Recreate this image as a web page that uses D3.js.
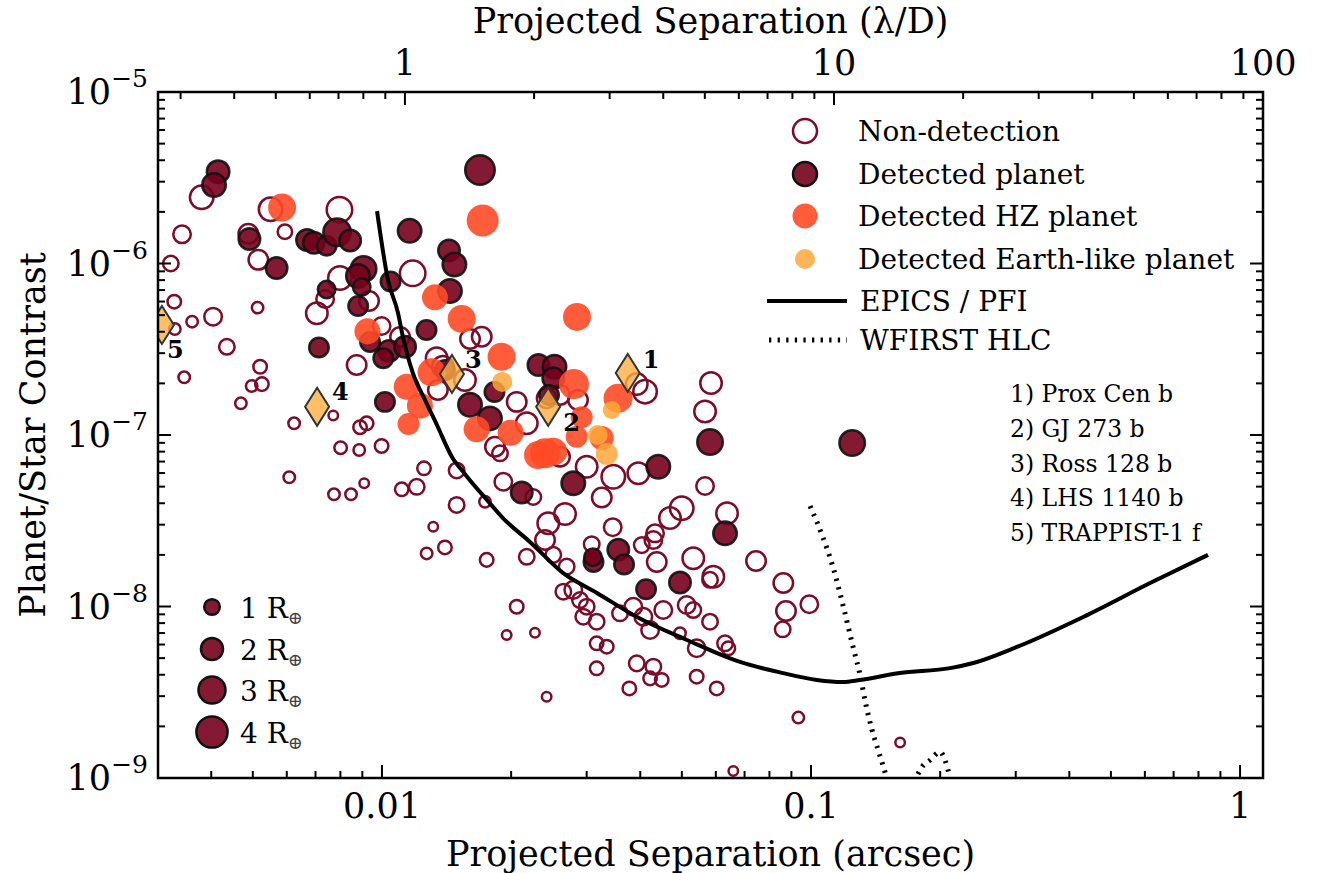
<!DOCTYPE html>
<html>
<head>
<meta charset="utf-8">
<script src="https://cdn.jsdelivr.net/npm/d3@7/dist/d3.min.js"></script>
<style>
html,body{margin:0;padding:0;background:#fff;}
svg text{font-family:"DejaVu Serif",serif;fill:#000;}
</style>
</head>
<body>
<svg id="chart" width="1322" height="873"></svg>
<script>
// ---------------- DATA ----------------
// [separation (arcsec), planet/star contrast, radius (R_earth)]
const nonDetections = [
[0.0038,2.43e-6,2.27],[0.00342,1.48e-6,1.26],[0.00322,1.0e-6,0.99],[0.00328,5.99e-7,0.75],[0.00329,4.15e-7,0.54],
[0.00361,4.58e-7,0.54],[0.00404,4.90e-7,1.26],[0.00435,3.27e-7,0.99],[0.00346,2.17e-7,0.54],[0.00513,5.53e-7,0.54],
[0.0052,2.50e-7,0.75],[0.00497,1.93e-7,0.54],[0.00525,1.98e-7,0.75],[0.00469,1.53e-7,0.54],[0.00624,1.17e-7,0.54],
[0.00488,1.49e-6,1.56],[0.00515,1.05e-6,1.56],[0.0055,2.07e-6,2.27],[0.00594,1.53e-6,0.86],[0.00608,5.67e-8,0.54],
[0.0077,1.30e-7,0.37],[0.00796,2.06e-6,2.67],[0.00798,8.23e-7,2.27],[0.00933,6.05e-7,1.56],[0.00737,6.21e-7,1.26],
[0.00705,5.13e-7,1.90],[0.00873,2.56e-7,1.56],[0.00998,4.32e-7,1.26],[0.01102,3.73e-7,1.56],[0.01179,8.77e-7,2.67],
[0.00921,1.17e-7,0.75],[0.00889,1.11e-7,0.75],[0.00998,8.63e-8,0.75],[0.00801,8.43e-8,0.64],[0.00885,8.18e-8,0.54],
[0.00773,4.51e-8,0.54],[0.00847,4.51e-8,0.54],[0.00909,5.23e-8,0.37],[0.01112,4.82e-8,0.75],[0.01205,4.99e-8,0.99],
[0.01253,6.39e-8,0.75],[0.01604,3.63e-7,1.56],[0.01708,3.74e-7,1.56],[0.01387,2.50e-7,1.90],[0.01341,2.80e-7,1.90],
[0.01561,2.09e-7,1.90],[0.0135,1.83e-7,1.56],[0.02061,1.56e-7,1.56],[0.02175,1.17e-7,1.90],[0.01834,8.55e-8,1.56],
[0.01884,7.82e-8,0.99],[0.0242,1.64e-7,1.56],[0.026,1.71e-7,1.56],[0.02863,1.60e-7,1.56],[0.03925,1.98e-7,1.90],
[0.04104,1.79e-7,2.27],[0.03,6.53e-8,1.90],[0.026,7.47e-8,1.56],[0.03959,5.98e-8,1.90],[0.03461,5.71e-8,2.27],
[0.02253,4.35e-8,0.99],[0.01918,5.34e-8,1.26],[0.01493,6.21e-8,0.99],[0.01493,3.91e-8,0.99],[0.01738,4.08e-8,0.54],
[0.03253,4.32e-8,1.56],[0.02671,3.46e-8,1.90],[0.05847,2.01e-7,1.90],[0.05662,1.37e-7,1.90],[0.05662,5.04e-8,1.26],
[0.04996,3.74e-8,2.27],[0.04691,3.28e-8,1.90],[0.06372,3.50e-8,1.90],[0.07445,1.84e-8,1.56],[0.08618,1.37e-8,1.56],
[0.0991,1.03e-8,1.26],[0.08743,9.41e-9,1.56],[0.0859,7.36e-9,0.99],[0.09342,2.25e-9,0.54],[0.0659,1.10e-9,0.37],
[0.1613,1.61e-9,0.37],[0.02441,3.06e-8,1.90],[0.02399,2.44e-8,1.56],[0.02508,2.0e-8,0.99],[0.0345,2.90e-8,1.26],
[0.03082,2.31e-8,0.99],[0.04032,2.28e-8,0.99],[0.04291,2.44e-8,1.26],[0.0433,2.67e-8,1.26],[0.0437,1.82e-8,1.56],
[0.05316,1.91e-8,1.90],[0.0592,1.49e-8,1.90],[0.05816,1.43e-8,0.99],[0.02695,1.71e-8,0.99],[0.02647,1.22e-8,0.99],
[0.02792,1.25e-8,1.26],[0.02894,1.09e-8,0.99],[0.03,9.97e-9,0.99],[0.03165,8.15e-9,0.99],[0.02946,8.72e-9,0.99],
[0.03588,9.13e-9,0.99],[0.03853,9.97e-9,1.26],[0.04066,8.72e-9,1.26],[0.04216,7.29e-9,1.26],[0.04526,9.54e-9,1.26],
[0.05131,1.02e-8,1.26],[0.05316,9.54e-9,0.99],[0.05816,8.15e-9,0.99],[0.0495,6.98e-9,0.54],[0.05414,5.71e-9,1.26],
[0.06304,6.10e-9,0.99],[0.06417,5.71e-9,0.75],[0.03165,6.10e-9,0.75],[0.03341,5.83e-9,0.75],[0.03925,4.66e-9,0.99],
[0.04291,4.46e-9,0.99],[0.04216,3.81e-9,0.75],[0.04487,3.73e-9,0.75],[0.03165,4.36e-9,0.75],[0.03772,3.33e-9,0.75],
[0.05414,3.90e-9,0.75],[0.06029,3.33e-9,0.75],[0.0242,2.98e-9,0.37],[0.02061,9.97e-9,0.75],[0.01953,6.82e-9,0.37],
[0.02273,7.03e-9,0.37],[0.01754,1.87e-8,0.75],[0.02175,1.95e-8,0.99],[0.01317,2.92e-8,0.37],[0.01402,2.21e-8,0.75],
[0.01271,2.04e-8,0.54]
];
const detectedPlanets = [
[0.00415,3.43e-6,2.08],[0.00406,2.87e-6,2.27],[0.00491,1.39e-6,1.90],[0.00568,9.41e-7,1.90],[0.00669,1.37e-6,1.90],
[0.00694,1.32e-6,1.90],[0.00743,1.27e-6,1.56],[0.00786,1.52e-6,3.11],[0.00843,1.36e-6,1.90],[0.00906,9.29e-7,2.67],
[0.00879,8.46e-7,2.27],[0.00897,7.30e-7,1.26],[0.0088,5.65e-7,1.56],[0.00743,7.05e-7,1.26],[0.00713,3.24e-7,1.56],
[0.00938,3.49e-7,1.56],[0.01038,3.09e-7,1.90],[0.01007,2.80e-7,1.56],[0.01132,3.27e-7,1.90],[0.01047,7.85e-7,1.56],
[0.0116,1.55e-6,2.27],[0.01016,1.56e-7,1.56],[0.0127,4.10e-7,1.56],[0.01433,1.19e-6,1.90],[0.01475,9.87e-7,2.27],
[0.0144,6.91e-7,2.27],[0.01402,2.39e-7,1.56],[0.01604,1.50e-7,2.27],[0.01785,1.25e-7,2.27],[0.01829,1.78e-7,1.56],
[0.02316,2.56e-7,1.90],[0.02524,2.50e-7,2.27],[0.02508,2.14e-7,1.90],[0.02451,1.71e-7,1.56],[0.02792,5.23e-8,2.27],
[0.04406,6.53e-8,2.27],[0.02117,4.62e-8,1.90],[0.05816,9.10e-8,2.67],[0.1247,8.98e-8,2.67],[0.06304,2.67e-8,2.27],
[0.03555,2.14e-8,1.90],[0.03666,1.76e-8,1.56],[0.03112,1.82e-8,1.56],[0.03103,1.94e-8,1.26],[0.04126,1.26e-8,1.56],
[0.0495,1.38e-8,1.90],[0.01692,3.51e-6,3.58]
];
const hzPlanets = [
[0.00585,2.12e-6,3.22],[0.00925,4.02e-7,2.78],[0.01142,1.91e-7,2.78],[0.01226,1.48e-7,2.78],[0.01153,1.16e-7,1.99],
[0.01329,6.35e-7,2.78],[0.01534,4.75e-7,3.22],[0.019,2.86e-7,3.22],[0.01305,2.32e-7,3.22],[0.01662,1.08e-7,2.78],
[0.01995,1.03e-7,2.78],[0.02848,4.88e-7,3.22],[0.02802,1.98e-7,3.70],[0.0355,1.64e-7,3.46],[0.02921,1.27e-7,1.99],
[0.03253,9.6e-8,2.37],[0.02843,9.77e-8,1.99],[0.02399,7.82e-8,3.70],[0.02508,7.99e-8,3.22],[0.0231,7.64e-8,3.22],
[0.01717,1.78e-6,4.2]
];
const earthLikePlanets = [
[0.01907,2.04e-7,1.64],[0.03432,1.40e-7,1.33],[0.03183,1.0e-7,1.64],[0.03341,7.75e-8,1.99]
];
const namedPlanets = ["Prox Cen b","GJ 273 b","Ross 128 b","LHS 1140 b","TRAPPIST-1 f"];
const namedSep = [0.0374,0.0244,0.01456,0.00706,0.00307];
const namedContrast = [2.30e-7,1.46e-7,2.27e-7,1.46e-7,4.38e-7];

const epicsSep = [0.00974,0.01033,0.0109,0.01114,0.0118,0.0126,0.01344,0.01456,0.0156,0.01757,0.01914,0.02213,0.02641,0.0317,0.0393,0.0514,0.0683,0.0861,0.1032,0.1188,0.130,0.161,0.211,0.239,0.302,0.431,0.617,0.842];
const epicsContrast = [2.02e-6,8.0e-7,5.14e-7,3.93e-7,2.30e-7,1.60e-7,1.14e-7,7.45e-8,5.93e-8,4.18e-8,3.28e-8,2.38e-8,1.57e-8,1.20e-8,8.69e-9,6.38e-9,4.75e-9,4.09e-9,3.73e-9,3.63e-9,3.73e-9,4.09e-9,4.37e-9,4.68e-9,5.81e-9,8.69e-9,1.37e-8,2.0e-8];
const wfirstSep = [0.0995,0.1061,0.1125,0.1187,0.1253,0.1301,0.1343,0.1387,0.1433,0.1488,0.157,0.1656,0.1748,0.1814,0.1894,0.1999,0.2053,0.2109,0.2166];
const wfirstContrast = [3.85e-8,2.61e-8,1.70e-8,1.02e-8,5.81e-9,3.99e-9,2.67e-9,1.91e-9,1.46e-9,1.08e-9,6.5e-10,7.0e-10,9.7e-10,1.16e-9,1.27e-9,1.42e-9,1.27e-9,1.0e-9,7.4e-10];

const legendLabels = ["Non-detection","Detected planet","Detected HZ planet","Detected Earth-like planet","EPICS / PFI","WFIRST HLC"];
const sizeLegendRadii = [1,2,3,4];
const xTickValues = [0.01,0.1,1];
const xTickLabels = ["0.01","0.1","1"];
const topTickValues = [1,10,100];
const topTickLabels = ["1","10","100"];
const yTickExponents = [-9,-8,-7,-6,-5];
const lambdaOverDPerArcsec = 88.4;
const xDomain = [0.003006,1.131];
const yDomain = [1e-9,1e-5];

// ---------------- STYLE ----------------
const C = {
  nonDet:"#7d0c2a", det:"#76001c", hz:"#ff4a26", earth:"#ffa83a",
  diamond:"#ffaf43", diamondStroke:"#333333"
};
const P = {left:158,right:1263,top:92,bottom:778};

const svg = d3.select("#chart");
const x = d3.scaleLog().domain(xDomain).range([P.left,P.right]);
const xTop = d3.scaleLog().domain(xDomain.map(d=>d*lambdaOverDPerArcsec)).range([P.left,P.right]);
const y = d3.scaleLog().domain(yDomain).range([P.bottom,P.top]);
const rS = d3.scaleSqrt().domain([0,4]).range([0,15.6]);

svg.append("defs").append("clipPath").attr("id","clip")
  .append("rect").attr("x",P.left).attr("y",P.top).attr("width",P.right-P.left).attr("height",P.bottom-P.top);

const plot = svg.append("g").attr("clip-path","url(#clip)");

// non-detections
plot.append("g").selectAll("circle").data(nonDetections).join("circle")
  .attr("cx",d=>x(d[0])).attr("cy",d=>y(d[1])).attr("r",d=>rS(d[2]))
  .attr("fill","none").attr("stroke",C.nonDet).attr("stroke-width",2.5);
// detected
plot.append("g").selectAll("circle").data(detectedPlanets).join("circle")
  .attr("cx",d=>x(d[0])).attr("cy",d=>y(d[1])).attr("r",d=>rS(d[2]))
  .attr("fill",C.det).attr("fill-opacity",0.9).attr("stroke","#111").attr("stroke-opacity",0.9).attr("stroke-width",2.5);
// HZ
plot.append("g").selectAll("circle").data(hzPlanets).join("circle")
  .attr("cx",d=>x(d[0])).attr("cy",d=>y(d[1])).attr("r",d=>rS(d[2]))
  .attr("fill",C.hz).attr("fill-opacity",0.9);
// Earth-like
plot.append("g").selectAll("circle").data(earthLikePlanets).join("circle")
  .attr("cx",d=>x(d[0])).attr("cy",d=>y(d[1])).attr("r",d=>rS(d[2]))
  .attr("fill",C.earth).attr("fill-opacity",0.85);

// curves
const epics = epicsSep.map((s,i)=>[s,epicsContrast[i]]);
const wfirst = wfirstSep.map((s,i)=>[s,wfirstContrast[i]]);
const line = d3.line().x(d=>x(d[0])).y(d=>y(d[1])).curve(d3.curveMonotoneX);
plot.append("path").attr("d",line(epics)).attr("fill","none").attr("stroke","#000").attr("stroke-width",4);
plot.append("path").attr("d",line(wfirst)).attr("fill","none").attr("stroke","#000").attr("stroke-width",5)
  .attr("stroke-dasharray","2.3,6.3");

// named diamonds
const dPath = "M0,-19L12,0L0,19L-12,0Z";
const labelOffsets = [[15,-5],[15,24],[13,-6],[15,-7],[5,33]];
namedPlanets.forEach((n,i)=>{
  const cx = x(namedSep[i]), cy = y(namedContrast[i]);
  plot.append("path").attr("d",dPath).attr("transform",`translate(${cx},${cy})`)
    .attr("fill",C.diamond).attr("fill-opacity",0.8).attr("stroke",C.diamondStroke).attr("stroke-width",2);
  plot.append("text").attr("x",cx+labelOffsets[i][0]).attr("y",cy+labelOffsets[i][1])
    .attr("font-size",24).attr("font-weight","bold").text(String(i+1));
});

// ---------------- AXES ----------------
const ax = svg.append("g");
const tick = (x1,y1,x2,y2)=>ax.append("line").attr("x1",x1).attr("y1",y1).attr("x2",x2).attr("y2",y2)
  .attr("stroke","#000").attr("stroke-width",2);
const MAJ=13, MIN=7;
for (let k=-9;k<=-5;k++){
  const v = Math.pow(10,k);
  tick(P.left,y(v),P.left+MAJ,y(v)); tick(P.right,y(v),P.right-MAJ,y(v));
  if (k<-5) for (let m=2;m<=9;m++){ const vv=m*v; tick(P.left,y(vv),P.left+MIN,y(vv)); tick(P.right,y(vv),P.right-MIN,y(vv)); }
}
for (let k=-3;k<=0;k++){
  for (let m=1;m<=9;m++){
    const v=m*Math.pow(10,k);
    if (v<xDomain[0]||v>xDomain[1]) continue;
    tick(x(v),P.bottom,x(v),P.bottom-(m===1?MAJ:MIN));
  }
}
const td = xTop.domain();
for (let k=-1;k<=2;k++){
  for (let m=1;m<=9;m++){
    const v=m*Math.pow(10,k);
    if (v<td[0]||v>td[1]*1.0001) continue;
    tick(xTop(v),P.top,xTop(v),P.top+(m===1?MAJ:MIN));
  }
}
svg.append("rect").attr("x",P.left).attr("y",P.top).attr("width",P.right-P.left).attr("height",P.bottom-P.top)
  .attr("fill","none").attr("stroke","#000").attr("stroke-width",2.5);

yTickExponents.forEach(e=>{
  const t = svg.append("text").attr("x",P.left-10).attr("y",y(Math.pow(10,e))+12)
    .attr("text-anchor","end").attr("font-size",35);
  t.append("tspan").text("10");
  t.append("tspan").attr("dy",-17).attr("font-size",25).text("\u2212"+Math.abs(e));
});
xTickValues.forEach((v,i)=>{
  svg.append("text").attr("x",x(v)).attr("y",P.bottom+40).attr("text-anchor","middle").attr("font-size",35).text(xTickLabels[i]);
});
topTickValues.forEach((v,i)=>{
  svg.append("text").attr("x",xTop(v)).attr("y",P.top-17).attr("text-anchor","middle").attr("font-size",35).text(topTickLabels[i]);
});
svg.append("text").attr("x",(P.left+P.right)/2).attr("y",866).attr("text-anchor","middle").attr("font-size",35)
  .text("Projected Separation (arcsec)");
svg.append("text").attr("x",(P.left+P.right)/2).attr("y",33).attr("text-anchor","middle").attr("font-size",35)
  .text("Projected Separation (\u03bb/D)");
svg.append("text").attr("transform",`translate(45,${(P.top+P.bottom)/2}) rotate(-90)`).attr("text-anchor","middle")
  .attr("font-size",35).text("Planet/Star Contrast");

// ---------------- LEGEND ----------------
const lg = svg.append("g");
const lx = 805, tx = 858;
const rowY = [131,174,216,259,301,340];
lg.append("circle").attr("cx",lx).attr("cy",rowY[0]).attr("r",12).attr("fill","none").attr("stroke",C.nonDet).attr("stroke-width",2.5);
lg.append("circle").attr("cx",lx).attr("cy",rowY[1]).attr("r",12).attr("fill",C.det).attr("fill-opacity",0.9).attr("stroke","#111").attr("stroke-width",2.5);
lg.append("circle").attr("cx",lx).attr("cy",rowY[2]).attr("r",12.5).attr("fill",C.hz).attr("fill-opacity",0.9);
lg.append("circle").attr("cx",lx).attr("cy",rowY[3]).attr("r",10).attr("fill",C.earth).attr("fill-opacity",0.85);
lg.append("line").attr("x1",767).attr("x2",847).attr("y1",rowY[4]).attr("y2",rowY[4]).attr("stroke","#000").attr("stroke-width",4);
lg.append("line").attr("x1",769).attr("x2",847).attr("y1",rowY[5]).attr("y2",rowY[5]).attr("stroke","#000").attr("stroke-width",5).attr("stroke-dasharray","2.3,6.3");
legendLabels.forEach((t,i)=>{
  lg.append("text").attr("x",i<4?tx:tx+2).attr("y",rowY[i]+10).attr("font-size",28).text(t);
});

const sl = svg.append("g");
const sY = [607,649,690,732];
sizeLegendRadii.forEach((R,i)=>{
  sl.append("circle").attr("cx",212).attr("cy",sY[i]).attr("r",rS(R)).attr("fill",C.det).attr("fill-opacity",0.9)
    .attr("stroke","#111").attr("stroke-width",2.5);
  const t = sl.append("text").attr("x",240).attr("y",sY[i]+11).attr("font-size",28);
  t.append("tspan").text(R+" R");
  t.append("tspan").attr("dy",6).attr("font-size",18).attr("fill","#444").text("\u2295");
});

namedPlanets.forEach((n,i)=>{
  svg.append("text").attr("x",1010).attr("y",402+i*34.8).attr("font-size",23.5).text(`${i+1}) ${n}`);
});
</script>
</body>
</html>
